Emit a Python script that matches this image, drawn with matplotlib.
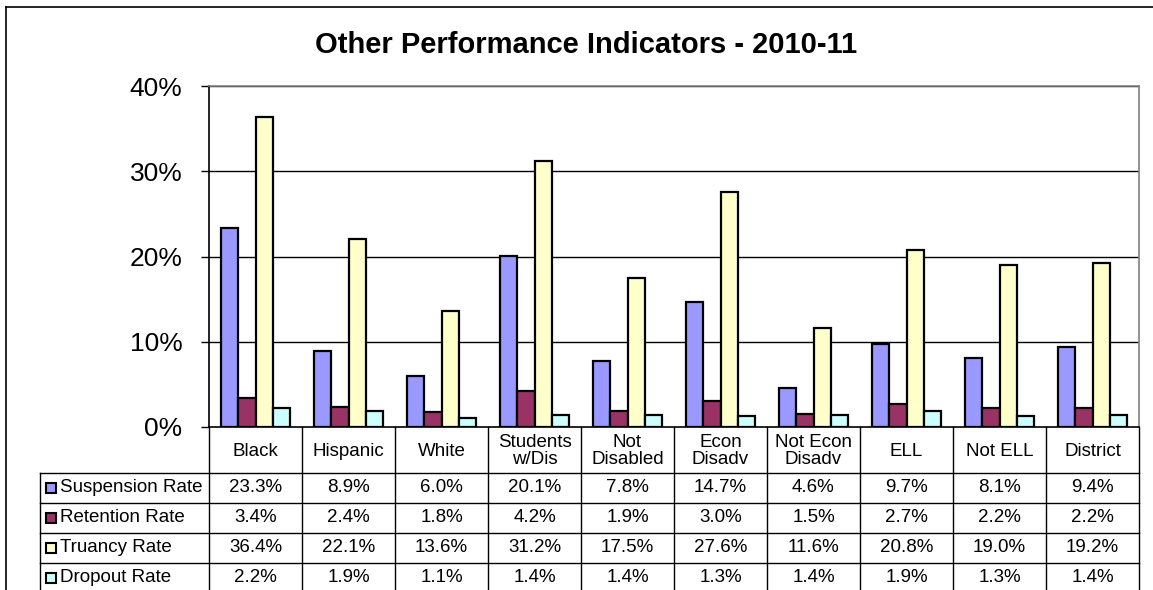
import matplotlib
matplotlib.use("Agg")
import matplotlib.pyplot as plt
from matplotlib.patches import Rectangle
import numpy as np

plt.rcParams['font.family'] = ['Liberation Sans', 'DejaVu Sans']

categories = ["Black", "Hispanic", "White", "Students\nw/Dis", "Not\nDisabled",
              "Econ\nDisadv", "Not Econ\nDisadv", "ELL", "Not ELL", "District"]
series_names = ["Suspension Rate", "Retention Rate", "Truancy Rate", "Dropout Rate"]
suspension = [23.3, 8.9, 6.0, 20.1, 7.8, 14.7, 4.6, 9.7, 8.1, 9.4]
retention = [3.4, 2.4, 1.8, 4.2, 1.9, 3.0, 1.5, 2.7, 2.2, 2.2]
truancy = [36.4, 22.1, 13.6, 31.2, 17.5, 27.6, 11.6, 20.8, 19.0, 19.2]
dropout = [2.2, 1.9, 1.1, 1.4, 1.4, 1.3, 1.4, 1.9, 1.3, 1.4]
yticks = [0, 10, 20, 30, 40]
colors = ["#9999FF", "#993366", "#FFFFCC", "#CCFFFF"]
title = "Other Performance Indicators - 2010-11"

W, H = 1153, 590
fig = plt.figure(figsize=(W / 100, H / 100), dpi=100)
fig.patch.set_facecolor("white")

PL, PR, PT, PB = 209, 1139, 86, 427
ax = fig.add_axes([PL / W, 1 - PB / H, (PR - PL) / W, (PB - PT) / H])

series = [suspension, retention, truancy, dropout]
n = len(categories)
x = np.arange(n)
bw = 0.183
for k, vals in enumerate(series):
    ax.bar(x + (k - 1.5) * bw, vals, width=bw, color=colors[k],
           edgecolor="black", linewidth=1.6, zorder=3)

ax.set_xlim(-0.5, n - 0.5)
ax.set_ylim(0, 40)
ax.set_yticks(yticks)
ax.set_yticklabels([f"{v}%" for v in yticks], fontsize=19)
ax.set_xticks(np.arange(-0.5, n, 1.0))
ax.set_xticklabels([])
ax.tick_params(axis="x", length=0)
ax.tick_params(axis="y", length=6, width=1, pad=13)
for v in yticks[1:]:
    ax.axhline(v, color="black", linewidth=1, zorder=1)
ax.spines["left"].set_color("black")
ax.spines["bottom"].set_color("black")
ax.spines["top"].set_color("#808080")
ax.spines["right"].set_color("#808080")
for s in ax.spines.values():
    s.set_linewidth(1.2)

fig.text(586 / W, 1 - 45 / H, title, ha="center", va="center",
         fontsize=21, fontweight="bold")

# Overlay in pixel coordinates for frame and data table
ov = fig.add_axes([0, 0, 1, 1], zorder=5)
ov.set_xlim(0, W)
ov.set_ylim(H, 0)
ov.axis("off")
ov.patch.set_alpha(0)

# outer chart frame
ov.plot([6, 6], [7, H], color="black", linewidth=1.2)
ov.plot([6, W], [7, 7], color="black", linewidth=1.2)

colw = (PR - PL) / n
hdr_bottom = 473
row_h = 30
LEG = 40
# vertical lines
for i in range(n + 1):
    xx = PL + i * colw
    ov.plot([xx, xx], [PB, H], color="black", linewidth=1)
ov.plot([LEG, LEG], [hdr_bottom, H], color="black", linewidth=1)
# horizontal lines
for r in range(len(series)):
    yy = hdr_bottom + r * row_h
    ov.plot([LEG, PR], [yy, yy], color="black", linewidth=1)

# header labels
for i, c in enumerate(categories):
    ov.text(PL + (i + 0.5) * colw, 0.5 * (PB + hdr_bottom) + 1, c, ha="center",
            va="center", fontsize=13.5, linespacing=1.0)

# rows
for r, (name, vals) in enumerate(zip(series_names, series)):
    yc = hdr_bottom + (r + 0.5) * row_h
    ov.add_patch(Rectangle((46, yc - 5), 10, 10, facecolor=colors[r],
                           edgecolor="black", linewidth=1.5))
    ov.text(60, yc, name, ha="left", va="center", fontsize=13.5)
    for i, v in enumerate(vals):
        ov.text(PL + (i + 0.5) * colw, yc, f"{v:.1f}%", ha="center",
                va="center", fontsize=13.5)

fig.savefig("out.png", dpi=100, facecolor="white")
